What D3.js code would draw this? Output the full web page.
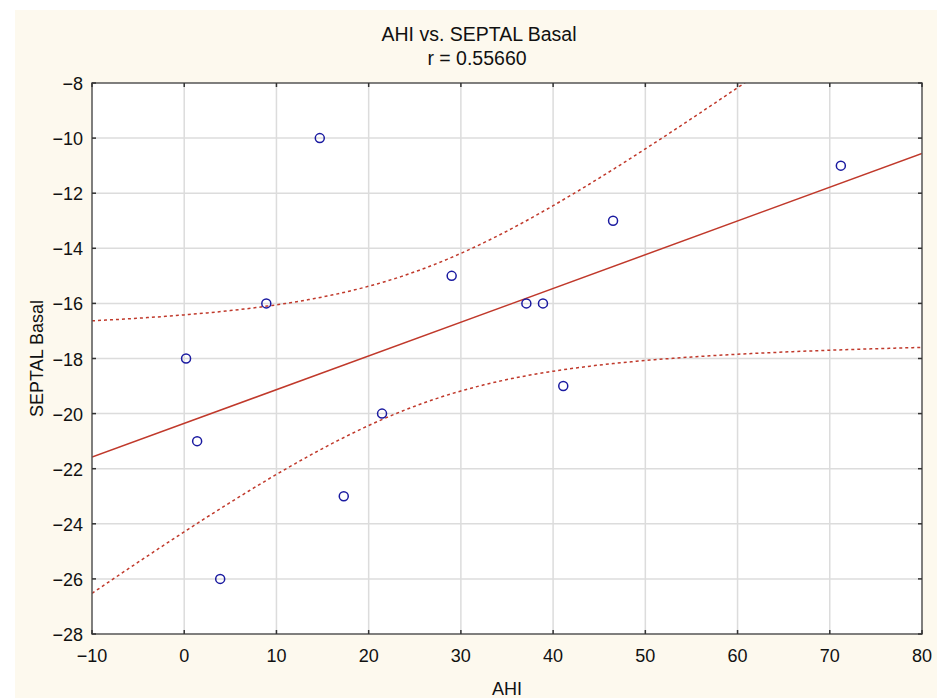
<!DOCTYPE html>
<html>
<head>
<meta charset="utf-8">
<script src="https://cdn.jsdelivr.net/npm/d3@7"></script>
<style>
  body { margin: 0; background: #fff; }
  svg { display: block; font-family: "Liberation Sans", Arial, sans-serif; }
</style>
</head>
<body>
<svg id="chart" width="937" height="698"></svg>
<script>
// AHI values (x) and SEPTAL Basal values (y)
const ahi = [0.2, 1.4, 3.9, 8.9, 14.7, 17.3, 21.45, 29.0, 37.1, 38.9, 41.1, 46.5, 71.2];
const septal = [-18, -21, -26, -16, -10, -23, -20, -15, -16, -16, -19, -13, -11];
const xTicks = [-10, 0, 10, 20, 30, 40, 50, 60, 70, 80];
const yTicks = [-8, -10, -12, -14, -16, -18, -20, -22, -24, -26, -28];

const svg = d3.select('#chart');
const W = 937, H = 698;
const m = { left: 92, right: 15, top: 83, bottom: 64 };

// cream panel behind everything
svg.append('rect').attr('x', 15).attr('y', 10).attr('width', W - 15).attr('height', H - 10).attr('fill', '#fdf9ee');

const x = d3.scaleLinear().domain([-10, 80]).range([m.left, W - m.right]);
const y = d3.scaleLinear().domain([-28, -8]).range([H - m.bottom, m.top]);

svg.append('rect')
  .attr('x', x(-10)).attr('y', y(-8))
  .attr('width', x(80) - x(-10)).attr('height', y(-28) - y(-8))
  .attr('fill', '#fff');

// grid
const grid = svg.append('g').attr('stroke', '#dcdcdc').attr('stroke-width', 1.5);
grid.selectAll('.gx').data(xTicks.slice(1, -1)).join('line')
  .attr('x1', d => x(d)).attr('x2', d => x(d)).attr('y1', y(-8)).attr('y2', y(-28));
grid.selectAll('.gy').data(yTicks.slice(1, -1)).join('line')
  .attr('y1', d => y(d)).attr('y2', d => y(d)).attr('x1', x(-10)).attr('x2', x(80));

// regression + 95% confidence band of the mean
const n = ahi.length;
const mx = d3.mean(ahi), my = d3.mean(septal);
const sxx = d3.sum(ahi, d => (d - mx) ** 2);
const sxy = d3.sum(ahi, (d, i) => (d - mx) * (septal[i] - my));
const b = sxy / sxx, a = my - b * mx;
const sse = d3.sum(ahi, (d, i) => (septal[i] - (a + b * d)) ** 2);
const se = Math.sqrt(sse / (n - 2));
const tcrit = 2.201; // t(0.975, 11)
const xs = d3.range(-10, 80.01, 0.5);
const band = k => xs.map(v => [v, a + b * v + k * tcrit * se * Math.sqrt(1 / n + (v - mx) ** 2 / sxx)]);

svg.append('clipPath').attr('id', 'plot').append('rect')
  .attr('x', x(-10)).attr('y', y(-8)).attr('width', x(80) - x(-10)).attr('height', y(-28) - y(-8));

const plot = svg.append('g').attr('clip-path', 'url(#plot)');
const line = d3.line().x(d => x(d[0])).y(d => y(d[1]));
plot.append('path').datum([[-10, a - 10 * b], [80, a + 80 * b]])
  .attr('d', line).attr('fill', 'none').attr('stroke', '#c0392b').attr('stroke-width', 1.5);
[1, -1].forEach(k => {
  plot.append('path').datum(band(k)).attr('d', line)
    .attr('fill', 'none').attr('stroke', '#c0392b').attr('stroke-width', 1.5)
    .attr('stroke-dasharray', '3,3');
});

// points
svg.append('g').selectAll('circle').data(ahi).join('circle')
  .attr('cx', d => x(d)).attr('cy', (d, i) => y(septal[i])).attr('r', 4.5)
  .attr('fill', 'none').attr('stroke', '#1a1aa0').attr('stroke-width', 1.5);

// frame
svg.append('rect')
  .attr('x', x(-10)).attr('y', y(-8))
  .attr('width', x(80) - x(-10)).attr('height', y(-28) - y(-8))
  .attr('fill', 'none').attr('stroke', '#555').attr('stroke-width', 1.5);

// inward ticks on all sides
const tk = svg.append('g').attr('stroke', '#333').attr('stroke-width', 1.5);
xTicks.forEach(v => {
  tk.append('line').attr('x1', x(v)).attr('x2', x(v)).attr('y1', y(-28)).attr('y2', y(-28) - 4);
  tk.append('line').attr('x1', x(v)).attr('x2', x(v)).attr('y1', y(-8)).attr('y2', y(-8) + 4);
});
yTicks.forEach(v => {
  tk.append('line').attr('y1', y(v)).attr('y2', y(v)).attr('x1', x(-10)).attr('x2', x(-10) + 4);
  tk.append('line').attr('y1', y(v)).attr('y2', y(v)).attr('x1', x(80)).attr('x2', x(80) - 4);
});

const fmt = v => v < 0 ? '\u2212' + Math.abs(v) : String(v);
svg.append('g').selectAll('text').data(xTicks).join('text')
  .attr('x', d => x(d)).attr('y', y(-28) + 28).attr('text-anchor', 'middle')
  .attr('font-size', 18).attr('fill', '#111').text(fmt);
svg.append('g').selectAll('text').data(yTicks).join('text')
  .attr('x', x(-10) - 9).attr('y', d => y(d) + 7).attr('text-anchor', 'end')
  .attr('font-size', 18).attr('fill', '#111').text(fmt);

// titles (the title block sits a little left of the plot centre)
const cx = (x(-10) + x(80)) / 2;
svg.append('text').attr('x', 479).attr('y', 41).attr('text-anchor', 'middle')
  .attr('font-size', 19.5).attr('fill', '#111').text('AHI vs. SEPTAL Basal');
svg.append('text').attr('x', 477).attr('y', 65).attr('text-anchor', 'middle')
  .attr('font-size', 19.5).attr('fill', '#111').text('r = 0.55660');
svg.append('text').attr('x', cx).attr('y', 695).attr('text-anchor', 'middle')
  .attr('font-size', 18).attr('fill', '#111').text('AHI');
svg.append('text').attr('transform', `translate(43,${(y(-8) + y(-28)) / 2}) rotate(-90)`)
  .attr('text-anchor', 'middle').attr('font-size', 18).attr('fill', '#111').text('SEPTAL Basal');
</script>
</body>
</html>
